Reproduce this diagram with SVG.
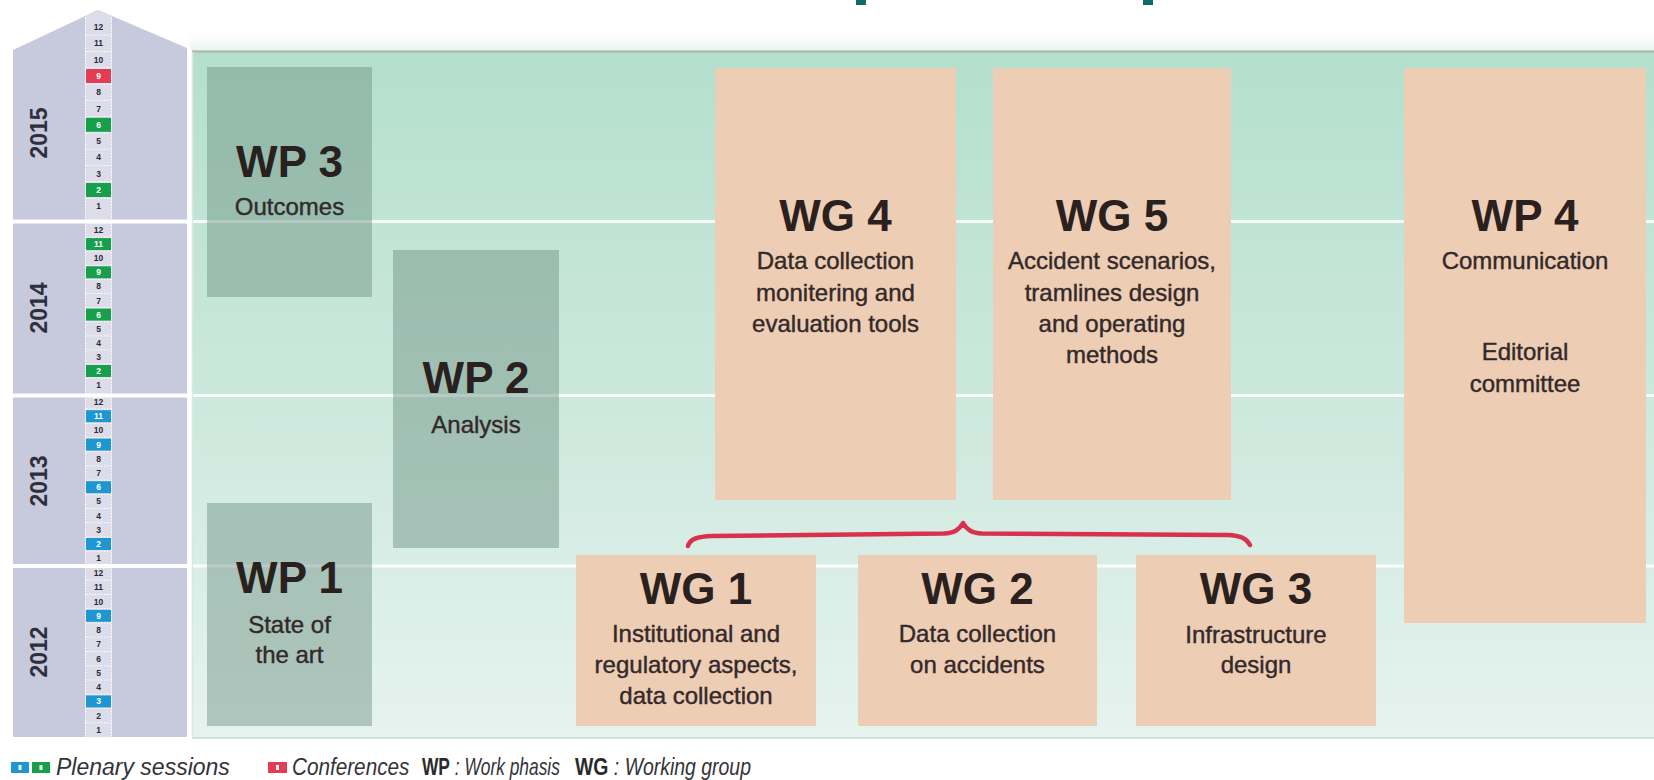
<svg xmlns="http://www.w3.org/2000/svg" width="1654" height="780" viewBox="0 0 1654 780">
<defs>
<linearGradient id="bg" x1="0" y1="0" x2="0" y2="1">
<stop offset="0" stop-color="#b4dfcd"/>
<stop offset="0.5" stop-color="#cce8dd"/>
<stop offset="1" stop-color="#e6f3ef"/>
</linearGradient>
<linearGradient id="fade" x1="0" y1="0" x2="0" y2="1">
<stop offset="0" stop-color="#ffffff"/>
<stop offset="1" stop-color="#eef5f3"/>
</linearGradient>
<style>
.t{font-family:"Liberation Sans",Arial,sans-serif;font-weight:bold;font-size:44px;fill:#2a211f;text-anchor:middle}
.s{font-family:"Liberation Sans",Arial,sans-serif;font-size:24px;fill:#33292a;stroke:#33292a;stroke-width:0.4;text-anchor:middle}
.wp{fill:#6a8f80;fill-opacity:0.45}
.wg{fill:#edcdb4}
.m{font-family:"Liberation Sans",Arial,sans-serif;font-weight:bold;font-size:8.5px;fill:#2a2a38;text-anchor:middle}
.mw{font-family:"Liberation Sans",Arial,sans-serif;font-weight:bold;font-size:8.5px;fill:#ffffff;text-anchor:middle}
.yr{font-family:"Liberation Sans",Arial,sans-serif;font-weight:bold;font-size:23px;fill:#2f2f3a;text-anchor:middle}
.div{stroke:#ffffff;stroke-width:3}
.red{fill:#e43d53}.grn{fill:#17a04c}.blu{fill:#1e96d2}
.lg{font-family:"Liberation Sans",Arial,sans-serif;font-size:23px;fill:#333338;font-style:italic}
.b{font-weight:bold;font-style:normal;fill:#2a2a2e}
</style>
</defs>
<rect width="1654" height="780" fill="#ffffff"/>
<rect x="856" y="0" width="10" height="5" fill="#0f6b68"/>
<rect x="1143" y="0" width="10" height="5" fill="#0f6b68"/>

<g id="timeline">
<polygon points="13,50 98,10 187,48 187,737 13,737" fill="#c7c9dd"/>
<polygon points="85,16 98,10 112,16 112,737 85,737" fill="#dcdde9"/>
<path d="M85.5,18V737M111.5,18V737" stroke="#ffffff" stroke-width="1" stroke-dasharray="1.5 1.5"/>
<path d="M86,35.2h25M86,51.5h25M86,67.8h25M86,84.1h25M86,100.4h25M86,116.7h25M86,133h25M86,149.3h25M86,165.6h25M86,181.9h25M86,198.2h25M86,237h25M86,251.2h25M86,265.3h25M86,279.4h25M86,293.5h25M86,307.6h25M86,321.7h25M86,335.8h25M86,349.9h25M86,364h25M86,378h25M86,409h25M86,423.3h25M86,437.5h25M86,451.7h25M86,465.9h25M86,480.1h25M86,494.3h25M86,508.5h25M86,522.7h25M86,536.9h25M86,551.1h25M86,580.2h25M86,594.4h25M86,608.7h25M86,623h25M86,637.2h25M86,651.5h25M86,665.8h25M86,680h25M86,694.3h25M86,708.6h25M86,722.8h25" stroke="#ffffff" stroke-width="1" stroke-dasharray="1.5 1.5"/>
<path d="M13,221.5H187M13,395.5H187M13,566H187" stroke="#ffffff" stroke-width="4"/>
<rect class="red" x="86" y="69" width="25" height="14"/>
<rect class="grn" x="86" y="117.8" width="25" height="14"/>
<rect class="grn" x="86" y="183" width="25" height="14"/>
<rect class="grn" x="86" y="238.1" width="25" height="12"/>
<rect class="grn" x="86" y="266.3" width="25" height="12"/>
<rect class="grn" x="86" y="308.6" width="25" height="12"/>
<rect class="grn" x="86" y="365" width="25" height="12"/>
<rect class="blu" x="86" y="410.2" width="25" height="12"/>
<rect class="blu" x="86" y="438.6" width="25" height="12"/>
<rect class="blu" x="86" y="481.2" width="25" height="12"/>
<rect class="blu" x="86" y="538" width="25" height="12"/>
<rect class="blu" x="86" y="609.8" width="25" height="12"/>
<rect class="blu" x="86" y="695.4" width="25" height="12"/>
<text class="m" x="98.5" y="30">12</text>
<text class="m" x="98.5" y="46.3">11</text>
<text class="m" x="98.5" y="62.6">10</text>
<text class="mw" x="98.5" y="78.9">9</text>
<text class="m" x="98.5" y="95.2">8</text>
<text class="m" x="98.5" y="111.5">7</text>
<text class="mw" x="98.5" y="127.8">6</text>
<text class="m" x="98.5" y="144.1">5</text>
<text class="m" x="98.5" y="160.4">4</text>
<text class="m" x="98.5" y="176.7">3</text>
<text class="mw" x="98.5" y="193">2</text>
<text class="m" x="98.5" y="209.3">1</text>
<text class="m" x="98.5" y="233">12</text>
<text class="mw" x="98.5" y="247.1">11</text>
<text class="m" x="98.5" y="261.2">10</text>
<text class="mw" x="98.5" y="275.3">9</text>
<text class="m" x="98.5" y="289.4">8</text>
<text class="m" x="98.5" y="303.5">7</text>
<text class="mw" x="98.5" y="317.6">6</text>
<text class="m" x="98.5" y="331.7">5</text>
<text class="m" x="98.5" y="345.8">4</text>
<text class="m" x="98.5" y="359.9">3</text>
<text class="mw" x="98.5" y="374">2</text>
<text class="m" x="98.5" y="388.1">1</text>
<text class="m" x="98.5" y="405">12</text>
<text class="mw" x="98.5" y="419.2">11</text>
<text class="m" x="98.5" y="433.4">10</text>
<text class="mw" x="98.5" y="447.6">9</text>
<text class="m" x="98.5" y="461.8">8</text>
<text class="m" x="98.5" y="476">7</text>
<text class="mw" x="98.5" y="490.2">6</text>
<text class="m" x="98.5" y="504.4">5</text>
<text class="m" x="98.5" y="518.6">4</text>
<text class="m" x="98.5" y="532.8">3</text>
<text class="mw" x="98.5" y="547">2</text>
<text class="m" x="98.5" y="561.2">1</text>
<text class="m" x="98.5" y="576">12</text>
<text class="m" x="98.5" y="590.3">11</text>
<text class="m" x="98.5" y="604.5">10</text>
<text class="mw" x="98.5" y="618.8">9</text>
<text class="m" x="98.5" y="633.1">8</text>
<text class="m" x="98.5" y="647.4">7</text>
<text class="m" x="98.5" y="661.6">6</text>
<text class="m" x="98.5" y="675.9">5</text>
<text class="m" x="98.5" y="690.2">4</text>
<text class="mw" x="98.5" y="704.4">3</text>
<text class="m" x="98.5" y="718.7">2</text>
<text class="m" x="98.5" y="733">1</text>
<text class="yr" transform="translate(47,133) rotate(-90)">2015</text>
<text class="yr" transform="translate(47,308) rotate(-90)">2014</text>
<text class="yr" transform="translate(47,481) rotate(-90)">2013</text>
<text class="yr" transform="translate(47,652) rotate(-90)">2012</text>
</g>

<g id="panel">
<rect x="190" y="34" width="1464" height="16" fill="url(#fade)"/>
<rect x="192" y="52" width="1462" height="686" fill="url(#bg)"/>
<path d="M192,51.5H1654" stroke="#a9bdb6" stroke-width="2.5"/>
<path d="M192,738H1654" stroke="#c9d8d4" stroke-width="1.5"/>
<path d="M192.5,52V738" stroke="#d9e8e3" stroke-width="1.5"/>
<path class="div" d="M193,221.5H1654M193,395.5H1654M193,566H1654" stroke-opacity="0.85"/>
</g>

<g id="wp3">
<rect class="wp" x="207" y="67" width="165" height="230"/>
<text class="t" x="289.5" y="177">WP 3</text>
<text class="s" x="289.5" y="215">Outcomes</text>
</g>
<g id="wp2">
<rect class="wp" x="393" y="250" width="166" height="298"/>
<text class="t" x="476" y="393">WP 2</text>
<text class="s" x="476" y="433">Analysis</text>
</g>
<g id="wp1">
<rect class="wp" x="207" y="503" width="165" height="223"/>
<text class="t" x="289.5" y="593">WP 1</text>
<text class="s" x="289.5" y="633">State of</text>
<text class="s" x="289.5" y="663">the art</text>
</g>
<g id="wg4">
<rect class="wg" x="715" y="68" width="241" height="432"/>
<text class="t" x="835.5" y="231">WG 4</text>
<text class="s" x="835.5" y="269">Data collection</text>
<text class="s" x="835.5" y="301">monitering and</text>
<text class="s" x="835.5" y="332">evaluation tools</text>
</g>
<g id="wg5">
<rect class="wg" x="993" y="68" width="238" height="432"/>
<text class="t" x="1112" y="231">WG 5</text>
<text class="s" x="1112" y="269">Accident scenarios,</text>
<text class="s" x="1112" y="301">tramlines design</text>
<text class="s" x="1112" y="332">and operating</text>
<text class="s" x="1112" y="363">methods</text>
</g>
<g id="wp4">
<rect class="wg" x="1404" y="68" width="242" height="555"/>
<text class="t" x="1525" y="231">WP 4</text>
<text class="s" x="1525" y="269">Communication</text>
<text class="s" x="1525" y="360">Editorial</text>
<text class="s" x="1525" y="392">committee</text>
</g>
<g id="wg1">
<rect class="wg" x="576" y="555" width="240" height="171"/>
<text class="t" x="696" y="604">WG 1</text>
<text class="s" x="696" y="642">Institutional and</text>
<text class="s" x="696" y="673">regulatory aspects,</text>
<text class="s" x="696" y="704">data collection</text>
</g>
<g id="wg2">
<rect class="wg" x="858" y="555" width="239" height="171"/>
<text class="t" x="977.5" y="604">WG 2</text>
<text class="s" x="977.5" y="642">Data collection</text>
<text class="s" x="977.5" y="673">on accidents</text>
</g>
<g id="wg3">
<rect class="wg" x="1136" y="555" width="240" height="171"/>
<text class="t" x="1256" y="604">WG 3</text>
<text class="s" x="1256" y="643">Infrastructure</text>
<text class="s" x="1256" y="673">design</text>
</g>

<g id="connectors">
<path d="M688,546 C690,539 697,536.5 712,536 L944,533.5 C954,533 959,530 963,523 C967,530 972,533 982,533.5 L1228,535 C1240,535.5 1246,538 1250,545" fill="none" stroke="#d9304d" stroke-width="4.5" stroke-linecap="round" stroke-linejoin="round"/>
</g>

<g id="legend">
<rect class="blu" x="11" y="762" width="18" height="11"/>
<rect class="grn" x="32" y="762" width="18" height="11"/>
<rect class="red" x="268" y="762" width="19" height="11"/>
<rect x="18.5" y="765" width="3" height="5" fill="#ffffff"/>
<rect x="39.5" y="765" width="3" height="5" fill="#ffffff"/>
<rect x="276" y="765" width="3" height="5" fill="#ffffff"/>
<text class="lg" x="56" y="775">Plenary sessions</text>
<text class="lg" transform="translate(292,775) scale(0.9,1)">Conferences</text>
<text class="lg" transform="translate(422,775) scale(0.755,1)"><tspan class="b">WP</tspan> : Work phasis</text>
<text class="lg" transform="translate(575,775) scale(0.845,1)"><tspan class="b">WG</tspan> : Working group</text>
</g>
</svg>
